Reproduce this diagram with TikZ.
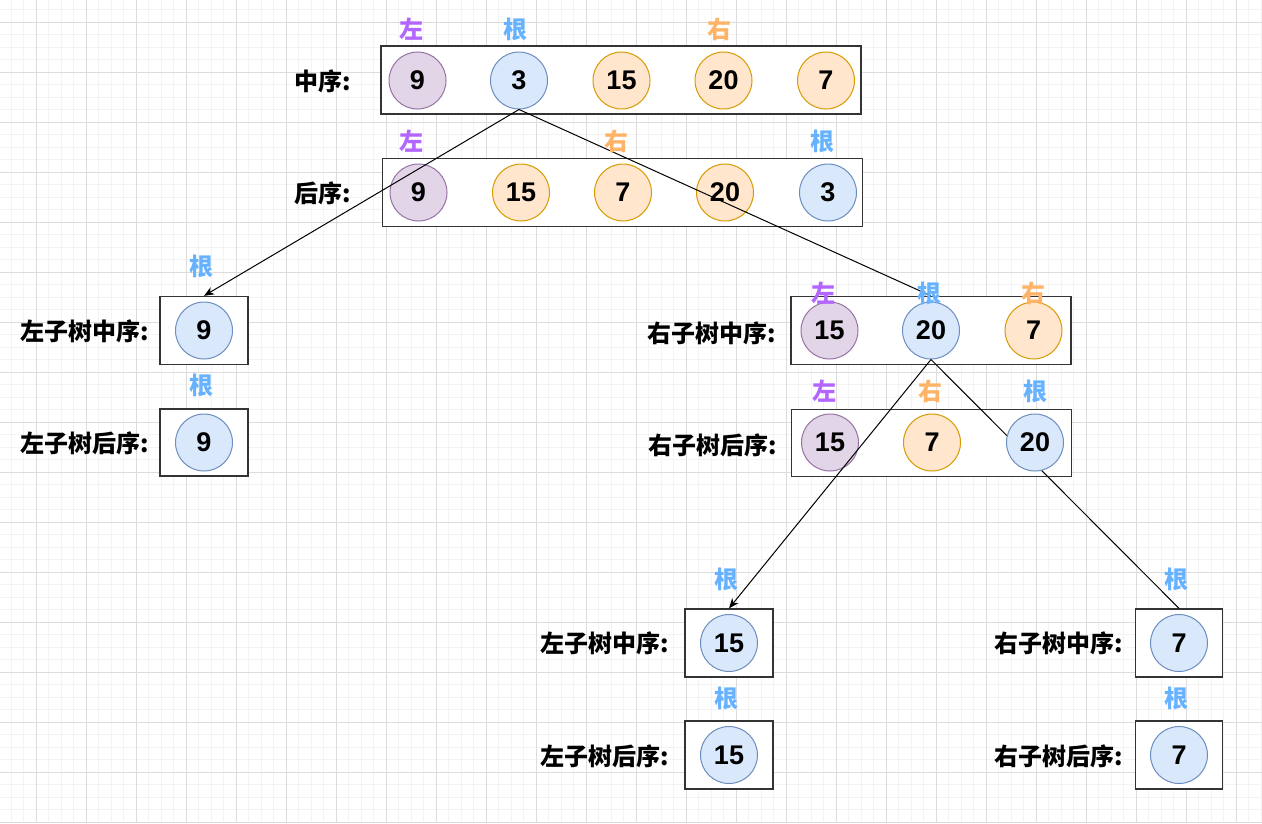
\documentclass[tikz,border=0pt]{standalone}
\usepackage{fontspec}
\setmainfont{Liberation Sans}
\newfontfamily\cjk{Noto Sans CJK SC}
\usetikzlibrary{arrows.meta}
\definecolor{pf}{HTML}{E1D5E7}\definecolor{ps}{HTML}{9673A6}
\definecolor{bf}{HTML}{DAE8FC}\definecolor{bs}{HTML}{6C8EBF}
\definecolor{of}{HTML}{FFE6CC}\definecolor{os}{HTML}{D79B00}
\definecolor{lp}{HTML}{B266FF}\definecolor{lb}{HTML}{66B2FF}\definecolor{lo}{HTML}{FFB366}
\definecolor{gmaj}{HTML}{DCDCDC}\definecolor{gmin}{HTML}{F3F3F3}
\definecolor{boxc}{HTML}{333333}
\newcommand\mynumfont{\fontsize{27}{27}\selectfont\bfseries}
\newcommand\mycjkfont{\cjk\fontsize{24}{24}\selectfont\bfseries}
\tikzset{
  seqbox/.style={draw=boxc, line width=1.3pt, fill=white, inner sep=0pt, rectangle},
  circ/.style={circle, minimum size=57pt, inner sep=0pt, line width=1pt, font=\mynumfont, text=black},
  cpur/.style={circ, fill=pf, draw=ps},
  cblu/.style={circ, fill=bf, draw=bs},
  cora/.style={circ, fill=of, draw=os},
  tagp/.style={font=\mycjkfont, text=lp, inner sep=0pt},
  tagb/.style={font=\mycjkfont, text=lb, inner sep=0pt},
  tago/.style={font=\mycjkfont, text=lo, inner sep=0pt},
  lab/.style={font=\mycjkfont, text=black, inner sep=0pt},
  conn/.style={draw=black, line width=1pt},
  tip/.style={-{Stealth[length=10pt,width=8pt,inset=3pt]}},
}
\begin{document}
\begin{tikzpicture}[x=1pt,y=-1pt]
\useasboundingbox (0,0) rectangle (1262,823);
\fill[white] (0,0) rectangle (1262,823);
\begin{scope}
\clip (0,0) rectangle (1262,823);
\foreach \i in {0,...,101} {
  \draw[gmin, line width=1pt] ({11+12.5*\i},0) -- ({11+12.5*\i},823);
}
\foreach \i in {0,...,66} {
  \draw[gmin, line width=1pt] (0,{9.5+12.5*\i}) -- (1262,{9.5+12.5*\i});
}
\foreach \i in {0,...,25} {
  \draw[gmaj, line width=1pt] ({36+50*\i},0) -- ({36+50*\i},823);
}
\foreach \i in {0,...,16} {
  \draw[gmaj, line width=1pt] (0,{22+50*\i}) -- (1262,{22+50*\i});
}
\end{scope}

% boxes
\node[seqbox, minimum width=480pt, minimum height=68pt] (inbox) at (621,80) {};
\node[seqbox, minimum width=480pt, minimum height=68pt] (postbox) at (622.5,192.5) {};
\node[seqbox, minimum width=88pt, minimum height=68pt] (lin) at (204,330.5) {};
\node[seqbox, minimum width=88pt, minimum height=67pt] (lpost) at (204,442.5) {};
\node[seqbox, minimum width=280pt, minimum height=68pt] (rin) at (931,330.5) {};
\node[seqbox, minimum width=280pt, minimum height=67pt] (rpost) at (931.5,443) {};
\node[seqbox, minimum width=88pt, minimum height=68pt] (blin) at (729,643) {};
\node[seqbox, minimum width=88pt, minimum height=68pt] (blpost) at (729,755) {};
\node[seqbox, minimum width=87pt, minimum height=68pt] (brin) at (1179,643) {};
\node[seqbox, minimum width=87pt, minimum height=68pt] (brpost) at (1179,755) {};

% right subtree inorder circles
\node[cpur] (ri15) at (829.5,330.5) {15};
\node[cblu] (ri20) at (931,330.5) {20};
\node[cora] (ri7) at (1033.5,330.5) {7};

% line under circle
\draw[conn] (ri20.south) -- (brin.north);

% top inorder circles
\node[cpur] (i9) at (417.5,80.5) {9};
\node[cblu] (i3) at (519,80.5) {3};
\node[cora] (i15) at (621.5,80.5) {15};
\node[cora] (i20) at (723.5,80.5) {20};
\node[cora] (i7) at (826,80.5) {7};
% top postorder circles
\node[cpur] (p9) at (418.5,192.5) {9};
\node[cora] (p15) at (521,192.5) {15};
\node[cora] (p7) at (623,192.5) {7};
\node[cora] (p20) at (725,192.5) {20};
\node[cblu] (p3) at (828,192.5) {3};
% left subtree
\node[cblu] (li9) at (204,330.5) {9};
\node[cblu] (lp9) at (204,442.5) {9};
% right subtree postorder
\node[cpur] (rp15) at (830,442.5) {15};
\node[cora] (rp7) at (932,442.5) {7};
\node[cblu] (rp20) at (1035,442.5) {20};
% bottom
\node[cblu] (bli15) at (729,643) {15};
\node[cblu] (blp15) at (729,755) {15};
\node[cblu] (bri7) at (1179,643) {7};
\node[cblu] (brp7) at (1179,755) {7};

% connectors
\draw[conn,tip] (i3.south) -- (lin.north);
\draw[conn] (i3.south) -- (rin.north);
\draw[conn,tip] (ri20.south) -- (blin.north);

% tags
\node[tagp] (ta1) at (411.7,29) {左};
\node[tagb] (ta2) at (515.5,29) {根};
\node[tago] (ta3) at (719,29) {右};
\node[tagp] (tb1) at (411.7,141.5) {左};
\node[tago] (tb2) at (616.6,141.5) {右};
\node[tagb] (tb3) at (822,141.5) {根};
\node[tagb] (tc1) at (201.7,266.5) {根};
\node[tagb] (tc2) at (201.7,385.5) {根};
\node[tagp] (td1) at (823.3,293.5) {左};
\node[tagb] (td2) at (929,293.5) {根};
\node[tago] (td3) at (1033,293.5) {右};
\node[tagp] (te1) at (824,391.5) {左};
\node[tago] (te2) at (930.7,391.5) {右};
\node[tagb] (te3) at (1035,391.5) {根};
\node[tagb] (tf1) at (726.6,579) {根};
\node[tagb] (tf2) at (726.6,698) {根};
\node[tagb] (tg1) at (1176.6,579) {根};
\node[tagb] (tg2) at (1176.6,698) {根};

% row labels
\node[lab] (l1) at (322.5,81.7) {中序:};
\node[lab] (l2) at (322.5,193) {后序:};
\node[lab] (l3) at (84.5,331) {左子树中序:};
\node[lab] (l4) at (84.5,443) {左子树后序:};
\node[lab] (l5) at (711.7,333) {右子树中序:};
\node[lab] (l6) at (713,445) {右子树后序:};
\node[lab] (l7) at (605,643.3) {左子树中序:};
\node[lab] (l8) at (605,756.5) {左子树后序:};
\node[lab] (l9) at (1058.7,643.3) {右子树中序:};
\node[lab] (l10) at (1058.7,756.5) {右子树后序:};
\end{tikzpicture}
\end{document}
